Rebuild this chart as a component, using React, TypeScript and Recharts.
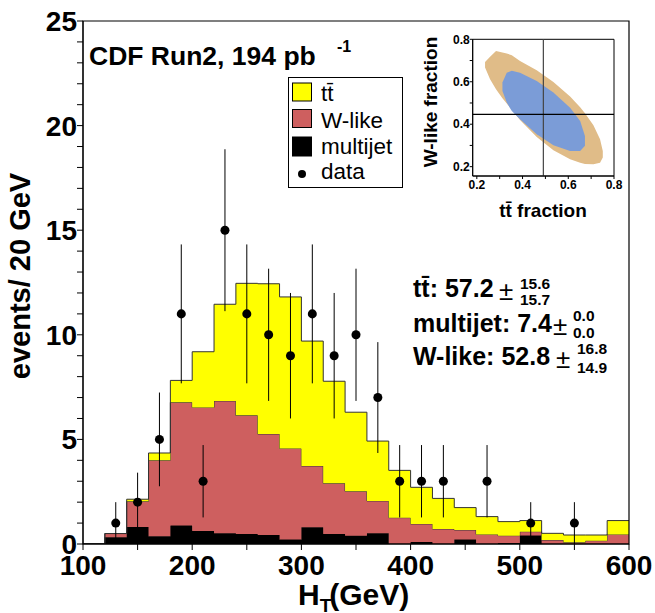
import { ComposedChart, Area, Scatter, ErrorBar, XAxis, YAxis, ReferenceArea, ReferenceLine } from "recharts";

const FONT = '"Liberation Sans", Arial, Helvetica, sans-serif';

// H_T histogram, 20 GeV bins from 100 to 600 GeV
const binEdges = [100, 120, 140, 160, 180, 200, 220, 240, 260, 280, 300, 320, 340, 360, 380, 400, 420, 440, 460, 480, 500, 520, 540, 560, 580, 600];
const multijet = [0, 0.32, 0.81, 0.37, 0.88, 0.62, 0.51, 0.48, 0.43, 0.22, 0.8, 0.48, 0.4, 0.51, 0, 0.1, 0, 0.22, 0, 0.05, 0.41, 0, 0, 0, 0];
const wLike = [0, 0.18, 1.23, 3.63, 5.89, 5.91, 6.33, 5.67, 4.83, 4.35, 2.93, 2.42, 2.12, 1.55, 1.26, 0.86, 0.72, 0.45, 0.46, 0.35, 0.18, 0.19, 0.08, 0.16, 0.46];
const ttbar = [0, 0, 0.1, 0.35, 1.05, 2.66, 4.62, 6.31, 7.18, 7.24, 5.97, 4.88, 3.78, 2.86, 2.26, 1.75, 1.46, 1.07, 0.85, 0.67, 0.53, 0.32, 0.35, 0.27, 0.66];

// data points (bin centers with entries)
const dataX = [130, 150, 170, 190, 210, 230, 250, 270, 290, 310, 330, 350, 370, 390, 410, 430, 470, 510, 550];
const dataCounts = [1, 2, 5, 11, 3, 15, 11, 10, 9, 11, 9, 10, 7, 3, 3, 3, 3, 1, 1];
const dataErrors = [1, 1.41, 2.24, 3.32, 1.73, 3.87, 3.32, 3.16, 3, 3.32, 3, 3.16, 2.65, 1.73, 1.73, 1.73, 1.73, 1, 1];

const xTicks = [100, 150, 200, 250, 300, 350, 400, 450, 500, 550, 600];
const yTicks = [0, 1, 2, 3, 4, 5, 6, 7, 8, 9, 10, 11, 12, 13, 14, 15, 16, 17, 18, 19, 20, 21, 22, 23, 24, 25];

// inset: fit contours in (ttbar fraction, W-like fraction)
const contourX = [0.236, 0.258, 0.284, 0.312, 0.331, 0.353, 0.389, 0.462, 0.535, 0.608, 0.652, 0.673, 0.71, 0.739, 0.751];
const outerLow = [0.667, 0.612, 0.565, 0.522, 0.497, 0.468, 0.42, 0.34, 0.277, 0.235, 0.218, 0.213, 0.211, 0.219, 0.243];
const outerHigh = [0.693, 0.718, 0.745, 0.738, 0.733, 0.725, 0.698, 0.654, 0.599, 0.53, 0.48, 0.452, 0.395, 0.329, 0.274];
const innerLow = [null, null, null, 0.557, 0.502, 0.462, 0.423, 0.353, 0.301, 0.274, 0.274, 0.298, null, null, null];
const innerHigh = [null, null, null, 0.596, 0.643, 0.652, 0.643, 0.604, 0.549, 0.478, 0.415, 0.345, null, null, null];
const insetXTicks = [0.2, 0.3, 0.4, 0.5, 0.6, 0.7, 0.8];
const insetYTicks = [0.2, 0.3, 0.4, 0.5, 0.6, 0.7, 0.8];
const bestFit = { tt: 0.491, w: 0.446 };

const histData = binEdges.map((x, i) => {
  const k = Math.min(i, multijet.length - 1);
  return { x, multijet: multijet[k], wLike: wLike[k], ttbar: ttbar[k] };
});

const points = dataX.map((x, i) => ({ x, y: dataCounts[i], err: dataErrors[i] }));

const contourData = contourX.map((x, i) => ({
  x,
  outer: [outerLow[i], outerHigh[i]],
  inner: innerLow[i] == null ? null : [innerLow[i], innerHigh[i]],
}));

const bigTick = { fontSize: 28, fontWeight: 700, fill: "#000", fontFamily: FONT };
const smallTick = { fontSize: 12, fontWeight: 700, fill: "#000", fontFamily: FONT };

export default function App() {
  return (
    <div style={{ position: "absolute", left: 0, top: 0, width: 655, height: 613, background: "#fff", fontFamily: FONT, overflow: "hidden" }}>
      <ComposedChart width={655} height={613} data={histData} margin={{ top: 21, right: 26, bottom: 19, left: 23 }}>
        <XAxis
          dataKey="x"
          type="number"
          domain={[100, 600]}
          allowDataOverflow
          ticks={xTicks}
          interval={0}
          tickFormatter={(v) => (v % 100 === 0 ? String(v) : "")}
          height={50}
          tickSize={6}
          tickMargin={5}
          stroke="#000"
          tick={bigTick}
        />
        <YAxis
          type="number"
          domain={[0, 25]}
          allowDataOverflow
          ticks={yTicks}
          interval={0}
          tickFormatter={(v) => (v % 5 === 0 ? String(v) : "")}
          width={60}
          tickSize={6}
          tickMargin={0}
          stroke="#000"
          tick={bigTick}
        />
        <Area type="stepAfter" dataKey="multijet" stackId="h" fill="#000" fillOpacity={1} stroke="#000" strokeWidth={1} isAnimationActive={false} />
        <Area type="stepAfter" dataKey="wLike" stackId="h" fill="#CE5F5F" fillOpacity={1} stroke="#333" strokeWidth={1} isAnimationActive={false} />
        <Area type="stepAfter" dataKey="ttbar" stackId="h" fill="#FFFF00" fillOpacity={1} stroke="#333" strokeWidth={1} isAnimationActive={false} />
        <Scatter data={points} dataKey="y" fill="#000" isAnimationActive={false}>
          <ErrorBar dataKey="err" direction="y" width={0} stroke="#000" strokeWidth={1} isAnimationActive={false} />
        </Scatter>
        <ReferenceArea x1={100} x2={600} y1={0} y2={25} fill="none" stroke="#000" strokeWidth={1.2} />
      </ComposedChart>

      <div style={{ position: "absolute", left: 420, top: 30 }}>
        <ComposedChart width={215} height={200} data={contourData} margin={{ top: 9.3, right: 21, bottom: 24, left: 12.7 }}>
          <XAxis
            dataKey="x"
            type="number"
            domain={[0.182, 0.8]}
            allowDataOverflow
            ticks={insetXTicks}
            interval={0}
            tickFormatter={(v, i) => (i % 2 === 0 ? v.toFixed(1) : "")}
            height={30}
            tickSize={3}
            tickMargin={1}
            stroke="#000"
            tick={smallTick}
          />
          <YAxis
            type="number"
            domain={[0.156, 0.8]}
            allowDataOverflow
            ticks={insetYTicks}
            interval={0}
            tickFormatter={(v, i) => (i % 2 === 0 ? v.toFixed(1) : "")}
            width={40}
            tickSize={3}
            tickMargin={0}
            stroke="#000"
            tick={smallTick}
          />
          <Area type="linear" dataKey="outer" fill="#E0BC88" fillOpacity={1} stroke="none" isAnimationActive={false} />
          <Area type="linear" dataKey="inner" fill="#7B9CD7" fillOpacity={1} stroke="none" isAnimationActive={false} />
          <ReferenceLine x={bestFit.tt} stroke="#444" strokeWidth={1.2} />
          <ReferenceLine y={bestFit.w} stroke="#000" strokeWidth={1.2} />
          <ReferenceArea x1={0.182} x2={0.8} y1={0.156} y2={0.8} fill="none" stroke="#000" strokeWidth={1} />
        </ComposedChart>
      </div>

      <svg width={655} height={613} style={{ position: "absolute", left: 0, top: 0, pointerEvents: "none" }} fontFamily={FONT}>
        {/* title */}
        <text x={89} y={65} fontSize={26.5} fontWeight={700}>CDF Run2, 194 pb</text>
        <text x={337} y={52} fontSize={16} fontWeight={700}>-1</text>

        {/* legend */}
        <rect x={288.5} y={77.5} width={114} height={110} fill="#fff" stroke="#000" strokeWidth={1} />
        <rect x={292.5} y={83} width={19} height={18} fill="#FFFF00" stroke="#000" strokeWidth={1} />
        <text x={321} y={101} fontSize={22.5}>t{"t\u0304"}</text>
        <rect x={292.5} y={109.5} width={19} height={18} fill="#CE5F5F" stroke="#000" strokeWidth={1} />
        <text x={321} y={127.5} fontSize={22.5}>W-like</text>
        <rect x={292.5} y={137} width={19} height={19} fill="#000" stroke="#000" strokeWidth={1} />
        <text x={321} y={154} fontSize={22.5}>multijet</text>
        <circle cx={302} cy={174} r={4} fill="#000" />
        <text x={321} y={178.5} fontSize={22.5}>data</text>

        {/* fit results */}
        <text x={413} y={297} fontSize={25} fontWeight={700}>t{"t\u0304"}: 57.2</text>
        <text x={499} y={300} fontSize={26}>±</text>
        <text x={520} y={288.5} fontSize={15.5} fontWeight={700}>15.6</text>
        <text x={520} y={305} fontSize={15.5} fontWeight={700}>15.7</text>

        <text x={413} y={332} fontSize={25} fontWeight={700}>multijet: 7.4</text>
        <text x={553} y={335} fontSize={26}>±</text>
        <text x={573} y={321} fontSize={15.5} fontWeight={700}>0.0</text>
        <text x={573} y={337.5} fontSize={15.5} fontWeight={700}>0.0</text>

        <text x={413} y={365} fontSize={25} fontWeight={700}>W-like: 52.8</text>
        <text x={556} y={368} fontSize={26}>±</text>
        <text x={577} y={354} fontSize={15.5} fontWeight={700}>16.8</text>
        <text x={577} y={372.5} fontSize={15.5} fontWeight={700}>14.9</text>

        {/* axis titles */}
        <text x={30} y={276} fontSize={29} fontWeight={700} textAnchor="middle" transform="rotate(-90 30 276)">events/ 20 GeV</text>
        <text x={298} y={605} fontSize={30} fontWeight={700}>
          H<tspan fontSize={19} dy={7}>T</tspan><tspan dy={-7} dx={-2}>(GeV)</tspan>
        </text>

        {/* inset axis titles */}
        <text x={437} y={102} fontSize={19} fontWeight={700} textAnchor="middle" transform="rotate(-90 437 102)">W-like fraction</text>
        <text x={543} y={217} fontSize={19} fontWeight={700} textAnchor="middle">t{"t\u0304"} fraction</text>
      </svg>
    </div>
  );
}
